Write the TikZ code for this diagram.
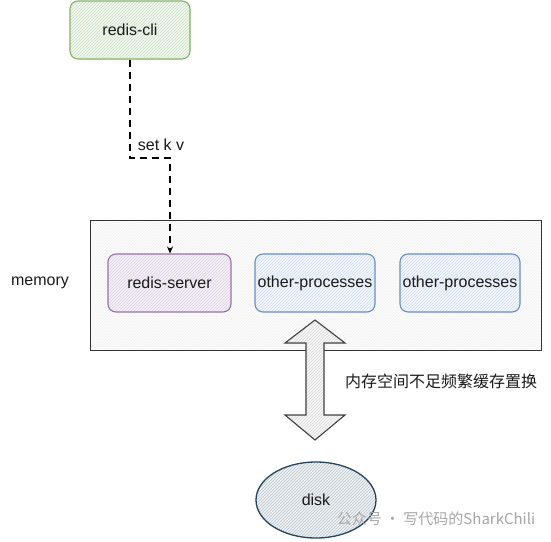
\documentclass[tikz,border=0pt]{standalone}
\usepackage{fontspec}
\setmainfont{Liberation Sans}
\newfontfamily\cjk{Noto Sans CJK SC}
\usetikzlibrary{patterns,arrows.meta,shapes.geometric}
\definecolor{gline}{HTML}{82B366}
\definecolor{gfill}{HTML}{D5E8D4}
\definecolor{pline}{HTML}{9673A6}
\definecolor{pfill}{HTML}{E1D5E7}
\definecolor{bline}{HTML}{6C8EBF}
\definecolor{bfill}{HTML}{DAE8FC}
\definecolor{dline}{HTML}{23445D}
\definecolor{dfill}{HTML}{BAC8D3}
\definecolor{txt}{HTML}{1A1A1A}
\tikzset{
  x=1pt,y=-1pt,
  every node/.style={font=\fontsize{16}{19}\selectfont, text=txt},
  hatched/.style 2 args={preaction={fill=#1}, pattern=north east lines, pattern color=#2},
  procbox/.style={rectangle, rounded corners=8pt, line width=1.1pt, minimum width=120pt, minimum height=58pt, inner sep=0pt},
  clibox/.style={procbox, draw=gline, hatched={gfill!35}{gline!40}},
  srvbox/.style={procbox, draw=pline, hatched={pfill!35}{pline!30}, minimum width=123pt},
  othbox/.style={procbox, draw=bline, hatched={bfill!35}{bline!30}},
  membox/.style={rectangle, draw=black!80, line width=0.9pt, hatched={black!1}{black!6}, minimum width=451pt, minimum height=130pt},
  diskshape/.style={ellipse, draw=dline, line width=1.3pt, hatched={dfill!25}{dline!30}, minimum width=120pt, minimum height=76pt, inner sep=0pt},
  plainlbl/.style={inner sep=1pt},
  dashline/.style={draw=black, line width=1.1pt, dash pattern=on 7pt off 5pt, -{Stealth[open,length=7pt,width=6pt]}},
  swaparrow/.style={draw=black!75, line width=1.1pt, hatched={black!3}{black!15}, line join=miter},
}
\begin{document}
\begin{tikzpicture}
\useasboundingbox (0,0) rectangle (551,541);
% memory container
\node[membox] (mem) at (315.5,285) {};
\node[plainlbl] (memlbl) at (40,283) {memory};
% processes
\node[clibox] (cli) at (130,30) {redis-cli};
\node[srvbox] (srv) at (169.5,283) {redis-server};
\node[othbox] (o1) at (315,283) {other-processes};
\node[othbox] (o2) at (460,283) {other-processes};
% dashed connector
\coordinate (bend1) at (130,158);
\coordinate (bend2) at (170,158);
\draw[dashline] (cli.south) -- (bend1) -- (bend2) -- (srv.north -| bend2);
\node[plainlbl, fill=white] (setlbl) at (161,145) {set k v};
% disk
\node[diskshape] (disk) at (316,500) {disk};
% double arrow
\coordinate (swaptop) at (315,320);
\coordinate (swapbot) at (315,440);
\path[swaparrow] (swaptop) -- (345,343) -- (324,343) -- (324,415) -- (345,415) -- (swapbot)
  -- (285,415) -- (306,415) -- (306,343) -- (285,343) -- cycle;
\node[plainlbl, anchor=west] (swaplbl) at (344,381) {\cjk 内存空间不足频繁缓存置换};
% watermark
\node[plainlbl, text=black!35, font=\fontsize{15}{18}\selectfont] (wm) at (436,519) {\cjk 公众号 · 写代码的SharkChili};
\end{tikzpicture}
\end{document}
